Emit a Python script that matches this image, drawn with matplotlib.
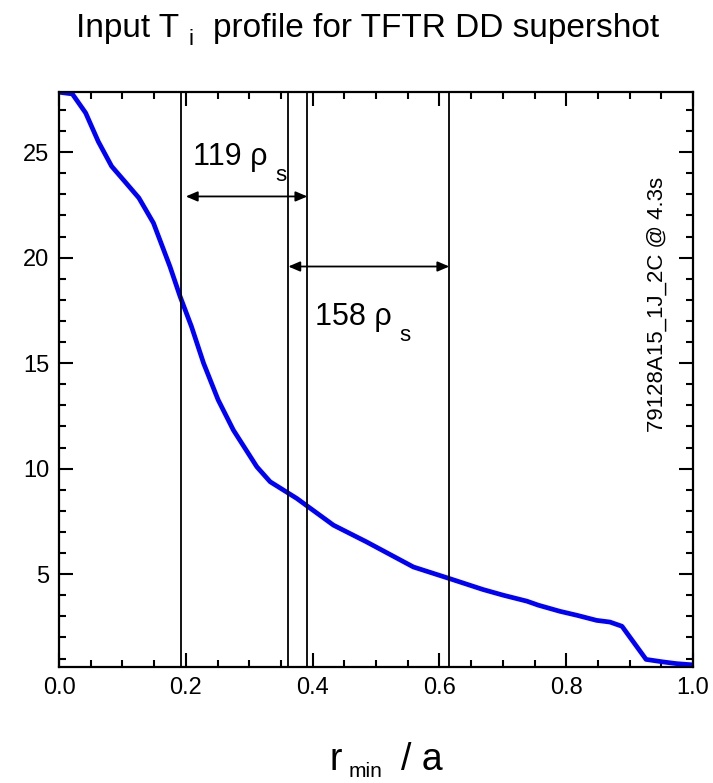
import numpy as np
import matplotlib
matplotlib.use('Agg')
import matplotlib.pyplot as plt

# ion temperature profile vs normalised minor radius
r_min = [0.0, 0.021, 0.042, 0.062, 0.083, 0.104, 0.126, 0.149, 0.175, 0.191,
         0.209, 0.228, 0.251, 0.275, 0.312, 0.333, 0.375, 0.433, 0.485, 0.559,
         0.617, 0.669, 0.701, 0.738, 0.756, 0.790, 0.817, 0.848, 0.869, 0.888,
         0.926, 0.953, 0.974, 1.0]
t_i = [27.84, 27.76, 26.86, 25.5, 24.33, 23.6, 22.83, 21.64, 19.58, 18.16,
       16.73, 15.0, 13.26, 11.83, 10.09, 9.38, 8.59, 7.32, 6.53, 5.34,
       4.78, 4.27, 4.0, 3.72, 3.53, 3.24, 3.05, 2.81, 2.73, 2.53,
       0.96, 0.84, 0.76, 0.70]

# radial markers and the two rho_s spans
marker_r = [0.1925, 0.3617, 0.3917, 0.6156]
span_a = (0.2, 0.3917, 22.9)
span_b = (0.3617, 0.6156, 19.58)
label_a = "119"
label_b = "158"
shot_id = "79128A15_1J_2C @ 4.3s"

plt.rcParams['font.family'] = ['Liberation Sans', 'DejaVu Sans']

W, H = 713, 783
fig = plt.figure(figsize=(W / 100, H / 100), dpi=100)
ax = fig.add_axes([59 / W, 1 - 667 / H, 634 / W, 575 / H])

ax.plot(r_min, t_i, color='#0000ff', lw=3.4, clip_on=True)
for xv in marker_r:
    ax.axvline(xv, color='black', lw=1.3)

for x0, x1, yv in (span_a, span_b):
    ax.annotate('', xy=(x1, yv), xytext=(x0, yv),
                arrowprops=dict(arrowstyle='<|-|>,head_length=0.7,head_width=0.3',
                                mutation_scale=10, color='black', lw=1.3,
                                shrinkA=0, shrinkB=0))

def sub_label(x, y, main, sub, size, sub_size, dx, dy):
    t = ax.text(x, y, main, fontsize=size, ha='left', va='baseline')
    ax.annotate(sub, xy=(1, 0), xycoords=t, xytext=(dx, dy),
                textcoords='offset points', fontsize=sub_size,
                ha='left', va='baseline')

sub_label(0.211, 24.41, label_a + " \u03c1", "s", 22, 16, 5.5, -6.5)
sub_label(0.404, 16.82, label_b + " \u03c1", "s", 22, 16, 5.5, -6.5)

ax.text(0.944, 17.76, shot_id, rotation=90, ha='center', va='center', fontsize=16)

ax.set_xlim(0, 1)
ax.set_ylim(0.6, 27.85)
ax.set_xticks(np.arange(0, 1.01, 0.2))
ax.set_xticks(np.arange(0, 1.01, 0.05), minor=True)
ax.set_yticks([5, 10, 15, 20, 25])
ax.set_yticks(np.arange(1, 28, 1), minor=True)
ax.xaxis.set_major_formatter(matplotlib.ticker.FormatStrFormatter('%.1f'))
ax.tick_params(which='both', direction='in', top=True, right=True,
               width=1.5, labelsize=17)
ax.tick_params(which='major', length=10, pad=7)
ax.tick_params(which='minor', length=5)
for s in ax.spines.values():
    s.set_linewidth(1.6)

# title with subscript
tt = fig.text(76 / W, 1 - 36.7 / H, "Input T", fontsize=24, ha='left', va='baseline')
ti_sub = plt.annotate("i", xy=(1, 0), xycoords=tt, xytext=(7, -1),
                      textcoords='offset points', fontsize=16,
                      ha='left', va='baseline', annotation_clip=False)
plt.annotate("profile for TFTR DD supershot", xy=(1, 0), xycoords=ti_sub,
             xytext=(14, 9.5), textcoords='offset points', fontsize=24,
             ha='left', va='baseline', annotation_clip=False)

# x axis label with subscript
xr = fig.text(330 / W, 1 - 770 / H, "r", fontsize=27, ha='left', va='baseline')
xs = plt.annotate("min", xy=(1, 0), xycoords=xr, xytext=(4.5, 0.5),
                  textcoords='offset points', fontsize=15,
                  ha='left', va='baseline', annotation_clip=False)
plt.annotate("/ a", xy=(1, 0), xycoords=xs, xytext=(13, 8.4),
             textcoords='offset points', fontsize=27,
             ha='left', va='baseline', annotation_clip=False)

fig.savefig('out.png', dpi=100)
